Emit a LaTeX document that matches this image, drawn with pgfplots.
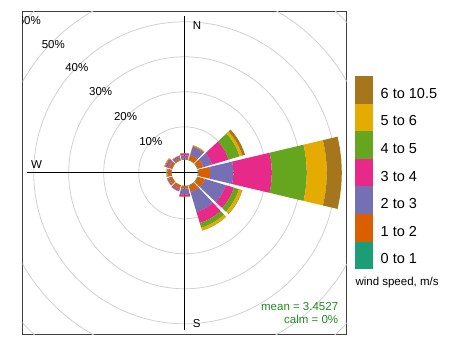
\documentclass[border=0pt]{standalone}
\usepackage{pgfplots}
\pgfplotsset{compat=1.18}
\usepackage{pgfplotstable}
\usepackage{fontspec}
\setmainfont{Liberation Sans}

\definecolor{c1}{HTML}{1B9E77}
\definecolor{c2}{HTML}{D95F02}
\definecolor{c3}{HTML}{7570B3}
\definecolor{c4}{HTML}{E7298A}
\definecolor{c5}{HTML}{66A61E}
\definecolor{c6}{HTML}{E6AB02}
\definecolor{c7}{HTML}{A6761D}
\definecolor{statgreen}{HTML}{228B22}

% percentage of time in each direction (bearing) and wind speed band
\pgfplotstableread{
dir  s1   s2   s3   s4    s5    s6   s7
0    0.05 0.29 0.95 0.60  0.05  0.02 0.00
30   0.15 1.48 2.23 0.28  0.23  0.14 0.02
60   0.23 1.63 2.57 4.94  3.32  0.80 0.80
90   0.30 3.27 6.63 11.00 10.00 5.70 4.30
120  0.23 2.06 6.25 2.43  1.54  0.92 0.08
150  0.23 1.77 6.00 3.29  1.42  0.78 0.05
180  0.10 0.70 1.71 0.63  0.06  0.03 0.00
210  0.05 0.90 0.45 0.35  0.06  0.02 0.00
240  0.05 0.90 0.30 0.25  0.07  0.03 0.00
270  0.05 0.80 0.20 0.15  0.20  0.15 0.02
300  0.05 0.90 0.60 0.45  0.25  0.15 0.02
330  0.05 0.50 0.50 0.30  0.05  0.03 0.00
}\windrose

\def\hole{3.7}   % size of the empty centre
\def\halfw{13.3} % half width of a sector, degrees

% one band of one sector: colour, bearing, inner and outer radius
\newcommand\windband[4]{%
  \gdef\wbpts{}%
  \foreach \k in {0,...,6}{%
    \pgfmathsetmacro\wbang{90-#2-\halfw+\k*\halfw/3}%
    \pgfmathsetmacro\wbx{#4*cos(\wbang)}%
    \pgfmathsetmacro\wby{#4*sin(\wbang)}%
    \xdef\wbpts{\wbpts (\wbx,\wby)}%
  }%
  \foreach \k in {6,...,0}{%
    \pgfmathsetmacro\wbang{90-#2-\halfw+\k*\halfw/3}%
    \pgfmathsetmacro\wbx{#3*cos(\wbang)}%
    \pgfmathsetmacro\wby{#3*sin(\wbang)}%
    \xdef\wbpts{\wbpts (\wbx,\wby)}%
  }%
  \edef\wbtmp{\noexpand\addplot[fill=#1, draw=none, forget plot] coordinates {\wbpts};}%
  \wbtmp
}

\pgfplotstablegetrowsof{\windrose}
\pgfmathtruncatemacro\lastrow{\pgfplotsretval-1}

\begin{document}
\begin{tikzpicture}
\path[use as bounding box] (0,0) rectangle (461bp,359bp);
\begin{axis}[
  name=ax, at={(22.7bp,24.7bp)}, anchor=south west,
  scale only axis, width=324bp, height=323bp,
  xmin=-46.29, xmax=46.29, ymin=-46.14, ymax=46.14,
  xtick=\empty, ytick=\empty,
  axis line style={draw=black!75, line width=0.8bp},
  legend style={at={(1.0256,0.7997)}, anchor=north west, draw=none, fill=none,
    inner sep=0pt, outer sep=0pt, row sep=0pt, column sep=7.4bp,
    nodes={inner sep=0pt, outer sep=0pt},
    font=\fontsize{14.5bp}{16bp}\selectfont},
  legend cell align=left,
  legend image code/.code={\fill[#1, draw=none] (0bp,-9.6bp) rectangle (18.3bp,18bp);},
]
% grid circles
\pgfplotsinvokeforeach{46,81,116,151,186,221}{
  \draw[black!18, line width=0.8bp] (axis cs:0,0) circle[radius=#1bp];
}
% compass lines
\draw[black, line width=0.8bp] (axis cs:0,-44.96) -- (axis cs:0,44.76);
\draw[black, line width=0.8bp] (axis cs:-45.06,0) -- (axis cs:45,0);

% sectors
\pgfplotsforeachungrouped \i in {0,...,\lastrow}{%
  \pgfplotstablegetelem{\i}{dir}\of\windrose
  \let\wdir\pgfplotsretval
  \let\rlow\hole
  \pgfplotsforeachungrouped \j in {1,...,7}{%
    \pgfplotstablegetelem{\i}{s\j}\of\windrose
    \pgfmathsetmacro\rhigh{\rlow+\pgfplotsretval}%
    \windband{c\j}{\wdir}{\rlow}{\rhigh}%
    \let\rlow\rhigh
  }%
}

\addlegendimage{fill=c7}\addlegendentry{6 to 10.5}
\addlegendimage{fill=c6}\addlegendentry{5 to 6}
\addlegendimage{fill=c5}\addlegendentry{4 to 5}
\addlegendimage{fill=c4}\addlegendentry{3 to 4}
\addlegendimage{fill=c3}\addlegendentry{2 to 3}
\addlegendimage{fill=c2}\addlegendentry{1 to 2}
\addlegendimage{fill=c1}\addlegendentry{0 to 1}

% labels
\begin{scope}[font=\fontsize{11.5bp}{13bp}\selectfont]
\node[anchor=west] at (axis cs:1.3,42.2) {N};
\node[anchor=west] at (axis cs:1.3,-42.96) {S};
\node[anchor=west] at (axis cs:-44.9,2.5) {W};
\node at (axis cs:-9.69,9.07) {10\%};
\node at (axis cs:-16.91,16.0) {20\%};
\node at (axis cs:-24.0,23.1) {30\%};
\node at (axis cs:-30.83,30.04) {40\%};
\node at (axis cs:-37.54,36.7) {50\%};
\node at (axis cs:-44.4,43.6) {60\%};
\node[anchor=east, text=statgreen] at (axis cs:44.86,-38.1) {mean = 3.4527};
\node[anchor=east, text=statgreen] at (axis cs:44.86,-41.8) {calm = 0\%};
\end{scope}
\end{axis}
\node[anchor=west, font=\fontsize{11.5bp}{13bp}\selectfont] at (352bp,76bp) {wind speed, m/s};
\end{tikzpicture}
\end{document}
